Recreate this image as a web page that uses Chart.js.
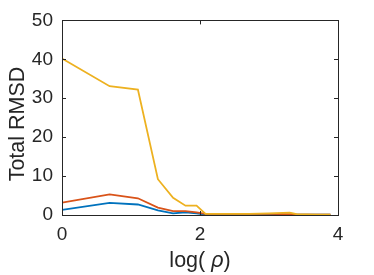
<!DOCTYPE html>
<html>
<head>
<meta charset="utf-8">
<script src="https://cdn.jsdelivr.net/npm/chart.js@4.4.1/dist/chart.umd.min.js"></script>
<style>
  html, body { margin: 0; padding: 0; background: #fff; }
  #wrap { width: 374px; height: 275px; }
</style>
</head>
<body>
<div id="wrap"><canvas id="grafico"></canvas></div>
<script>
// log(rho) positions
const logRho = [0, 0.69, 1.10, 1.39, 1.61, 1.79, 1.95, 2.08, 2.30, 2.71, 3.00, 3.30, 3.40, 3.69, 3.89];

// Total RMSD of the three curves
const rmsdAzul    = [1.3, 3.1, 2.7, 1.2, 0.4, 0.7, 0.4, 0.1, 0.1, 0.1, 0.1, 0.1, 0.1, 0.1, 0.1];
const rmsdLaranja = [3.2, 5.3, 4.3, 1.9, 1.0, 1.0, 0.7, 0.3, 0.3, 0.3, 0.3, 0.2, 0.1, 0.1, 0.1];
const rmsdAmarelo = [40.2, 33.1, 32.2, 9.2, 4.4, 2.4, 2.4, 0.3, 0.3, 0.3, 0.4, 0.6, 0.2, 0.1, 0.1];

const xTicks = [0, 2, 4];
const yTicks = [0, 10, 20, 30, 40, 50];

const corTexto = '#262626';
const fonte = '"Liberation Sans", Arial, Helvetica, sans-serif';

function pontos(ys) {
  return logRho.map((x, i) => ({ x: x, y: ys[i] }));
}

// caixa do eixo com marcas para dentro (estilo MATLAB) + titulos
const caixaEixos = {
  id: 'caixaEixos',
  afterDraw(chart) {
    const { ctx, chartArea: a, scales } = chart;
    const len = 4;
    ctx.save();
    ctx.strokeStyle = corTexto;
    ctx.lineWidth = 1;
    ctx.beginPath();
    xTicks.forEach(v => {
      const px = Math.round(scales.x.getPixelForValue(v)) + 0.5;
      ctx.moveTo(px, a.bottom); ctx.lineTo(px, a.bottom - len);
      ctx.moveTo(px, a.top); ctx.lineTo(px, a.top + len);
    });
    yTicks.forEach(v => {
      const py = Math.round(scales.y.getPixelForValue(v)) + 0.5;
      ctx.moveTo(a.left, py); ctx.lineTo(a.left + len, py);
      ctx.moveTo(a.right, py); ctx.lineTo(a.right - len, py);
    });
    ctx.stroke();
    ctx.strokeRect(Math.round(a.left) + 0.5, Math.round(a.top) + 0.5,
                   Math.round(a.right - a.left), Math.round(a.bottom - a.top));

    ctx.fillStyle = corTexto;
    ctx.textBaseline = 'alphabetic';
    const f1 = '21.5px ' + fonte;
    const f2 = 'italic 21.5px ' + fonte;

    // titulo do eixo x: log( rho ) com rho em italico
    const cx = (a.left + a.right) / 2;
    const partes = [['log( ', f1], ['\u03C1', f2], [')', f1]];
    let total = 0;
    partes.forEach(p => { ctx.font = p[1]; total += ctx.measureText(p[0]).width; });
    let x = cx - total / 2;
    ctx.textAlign = 'left';
    partes.forEach(p => {
      ctx.font = p[1];
      ctx.fillText(p[0], x, 267);
      x += ctx.measureText(p[0]).width;
    });

    // titulo do eixo y
    ctx.save();
    ctx.translate(24, 124);
    ctx.rotate(-Math.PI / 2);
    ctx.font = f1;
    ctx.textAlign = 'center';
    ctx.fillText('Total RMSD', 0, 0);
    ctx.restore();
    ctx.restore();
  }
};

new Chart(document.getElementById('grafico'), {
  type: 'line',
  data: {
    datasets: [
      { data: pontos(rmsdAzul), borderColor: '#0072BD', order: 3 },
      { data: pontos(rmsdLaranja), borderColor: '#D95319', order: 2 },
      { data: pontos(rmsdAmarelo), borderColor: '#EDB120', order: 1 }
    ]
  },
  options: {
    responsive: true,
    maintainAspectRatio: false,
    animation: false,
    layout: { padding: { top: 20, right: 36, left: 0, bottom: 0 } },
    elements: {
      point: { radius: 0 },
      line: { borderWidth: 1.8, tension: 0, fill: false }
    },
    plugins: { legend: { display: false }, tooltip: { enabled: false } },
    scales: {
      x: {
        type: 'linear',
        min: 0, max: 4,
        afterFit(scale) { scale.height = 60; },
        afterBuildTicks(scale) { scale.ticks = xTicks.map(v => ({ value: v })); },
        grid: { display: false, drawTicks: false },
        border: { display: false },
        ticks: { color: corTexto, font: { family: fonte, size: 19 }, padding: 8, maxRotation: 0 }
      },
      y: {
        type: 'linear',
        min: 0, max: 50,
        afterFit(scale) { scale.width = 62; },
        afterBuildTicks(scale) { scale.ticks = yTicks.map(v => ({ value: v })); },
        grid: { display: false, drawTicks: false },
        border: { display: false },
        ticks: { color: corTexto, font: { family: fonte, size: 19 }, padding: 9 }
      }
    }
  },
  plugins: [caixaEixos]
});
</script>
</body>
</html>
